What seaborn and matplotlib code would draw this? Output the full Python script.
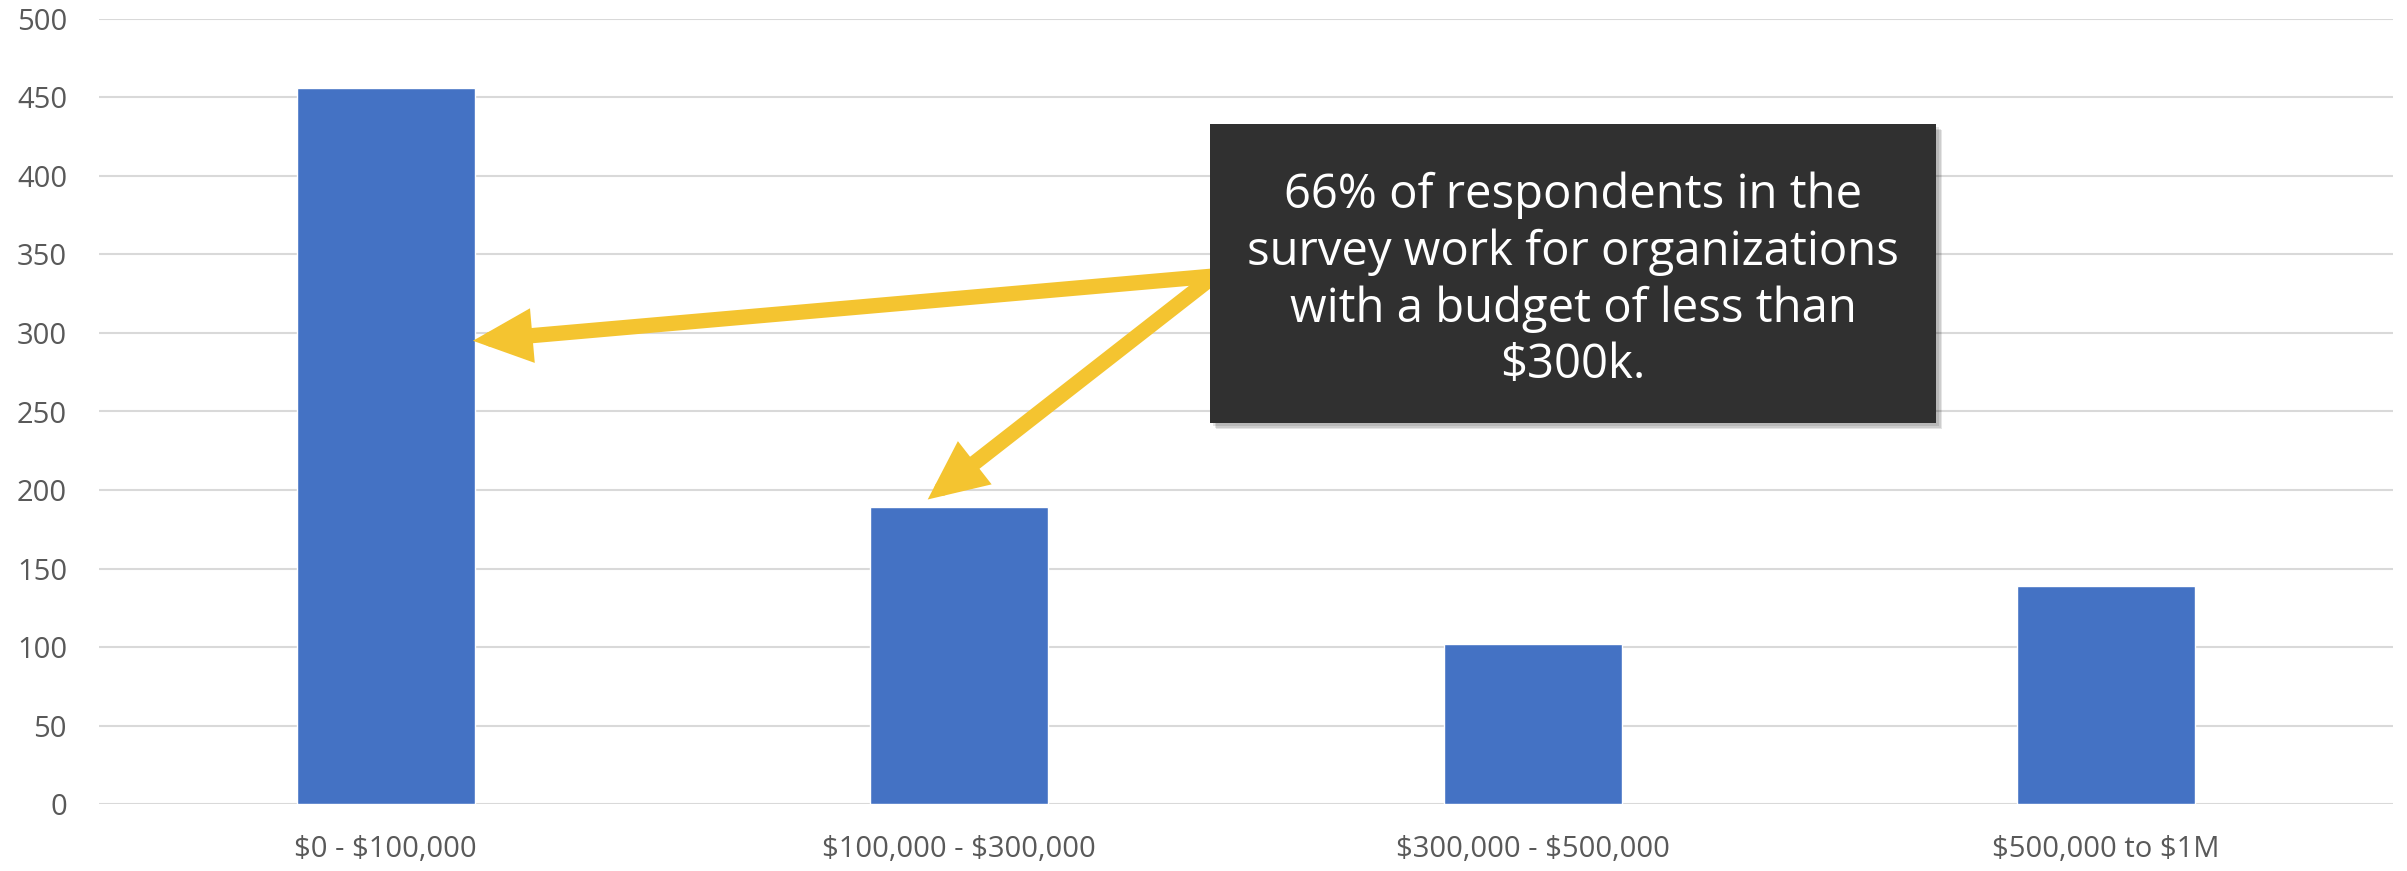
import matplotlib
matplotlib.use("Agg")
import matplotlib.pyplot as plt
from matplotlib.patches import Rectangle, FancyArrowPatch
import seaborn as sns
import pandas as pd

# Survey respondents by organization budget
categories = ["$0 - $100,000", "$100,000 - $300,000", "$300,000 - $500,000", "$500,000 to $1M"]
respondents = [456, 189, 102, 139]
y_ticks = [0, 50, 100, 150, 200, 250, 300, 350, 400, 450, 500]
note = "66% of respondents in the\nsurvey work for organizations\nwith a budget of less than\n$300k."

sns.set_theme(style="white")
plt.rcParams["font.family"] = ["Open Sans", "DejaVu Sans"]
plt.rcParams["text.parse_math"] = False

W, H, DPI = 2407, 871, 100
fig = plt.figure(figsize=(W / DPI, H / DPI), dpi=DPI)
ax = fig.add_axes([99 / W, (H - 804.3) / H, (2393 - 99) / W, (804.3 - 18.7) / H])

df = pd.DataFrame({"budget": categories, "count": respondents})
sns.barplot(data=df, x="budget", y="count", color="#4472C4", width=0.31,
            saturation=1, ax=ax, zorder=3)

ax.set_ylim(0, 500)
ax.set_xlim(-0.5, len(categories) - 0.5)
ax.set_yticks(y_ticks)
ax.yaxis.grid(True, color="#d9d9d9", linewidth=1.5, zorder=0)
ax.set_axisbelow(True)
for s in ax.spines.values():
    s.set_visible(False)
ax.set_xlabel("")
ax.set_ylabel("")
ax.tick_params(axis="both", length=0, labelsize=21, labelcolor="#595959")
ax.tick_params(axis="y", pad=23)
ax.tick_params(axis="x", pad=22)

# Callout box with a soft drop shadow
bx0, bx1 = 1210 / W, 1936 / W
by0, by1 = (H - 423) / H, (H - 124) / H
for i, a in enumerate([0.10, 0.10, 0.10]):
    off = (i + 2) * 1.6
    fig.add_artist(Rectangle((bx0 + off / W, by0 - off / H), bx1 - bx0, by1 - by0,
                             transform=fig.transFigure, facecolor="#000000",
                             alpha=a, edgecolor="none", zorder=9))
fig.add_artist(Rectangle((bx0, by0), bx1 - bx0, by1 - by0, transform=fig.transFigure,
                         facecolor="#303030", edgecolor="none", zorder=10))
fig.text((bx0 + bx1) / 2, (by0 + by1) / 2 - 0.008, note, color="white", fontsize=34,
         ha="center", va="center", linespacing=1.25, zorder=11)

# Arrows from the callout to the two smallest-budget bars
start_px = (1214, H - 276)
tips = [(0 + 0.152, 295), (1 - 0.055, 194)]
for tx, ty in tips:
    arr = FancyArrowPatch(posA=start_px, posB=ax.transData.transform((tx, ty)),
                          transform=None, arrowstyle="-|>,head_length=1.35,head_width=0.62",
                          mutation_scale=18, linewidth=11, color="#F4C430",
                          shrinkA=0, shrinkB=0, zorder=8, capstyle="round", joinstyle="miter")
    fig.add_artist(arr)

fig.savefig("out.png", dpi=DPI, facecolor="white")
